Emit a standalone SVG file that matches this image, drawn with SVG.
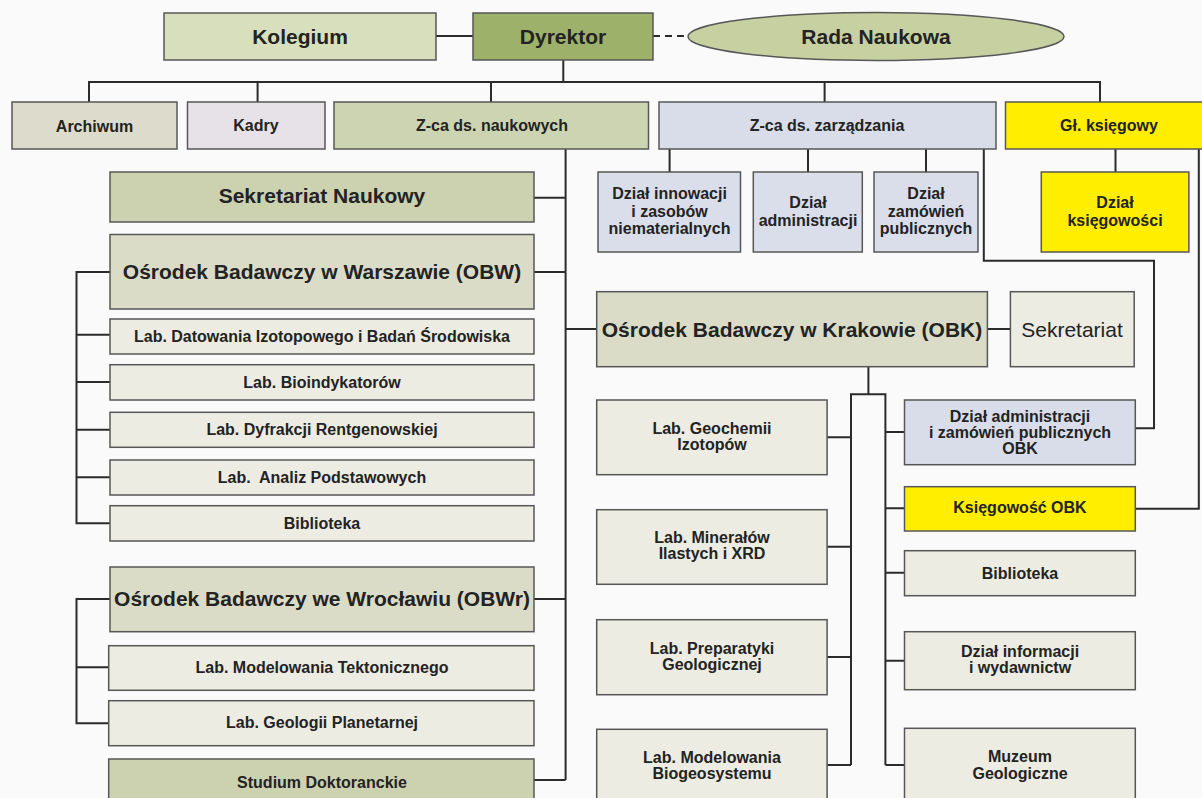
<svg xmlns="http://www.w3.org/2000/svg" width="1202" height="798" viewBox="0 0 1202 798">
<style>
.box{stroke:#575757;stroke-width:1.5}
.t16{font-family:'Liberation Sans',Arial,sans-serif;font-weight:bold;font-size:16px;fill:#232323;text-anchor:middle}
.t21{font-family:'Liberation Sans',Arial,sans-serif;font-weight:bold;font-size:21px;fill:#232323;text-anchor:middle}
.r21{font-family:'Liberation Sans',Arial,sans-serif;font-size:21px;fill:#232323;text-anchor:middle}
.c{fill:none;stroke:#2b2b2b;stroke-width:2}
.lab{fill:#ecece2}
.blue{fill:#dadeea}
.yel{fill:#ffee00}
.mid{fill:#dadcc7}
.dark{fill:#ccd1b0}
</style>
<rect width="1202" height="798" fill="#fafafa"/>
<g id="connectors">
<path class="c" d="M436 36H473"/>
<path class="c" d="M653 36H688" stroke-dasharray="7 5"/>
<path class="c" d="M563.3 60V82M89 102V82H1100V102M257.6 82V102M491 82V102M824.6 82V102"/>
<path class="c" d="M565.6 149V780M534 197.7H565.6M534 272H565.6M565.6 329H596.7M534 599H565.6M534 780H565.6"/>
<path class="c" d="M110 272H76.5V523.3H110M76.5 334.7H110M76.5 382H110M76.5 429.7H110M76.5 477.3H110"/>
<path class="c" d="M110 599H76.5V723.3H108.7M76.5 667.3H108.7"/>
<path class="c" d="M669.6 149V172M808 149V172M926 149V172M983.8 149V260.7H1154V428.3H1135.3"/>
<path class="c" d="M1115.5 149V172M1198.8 149V508.7H1135.3"/>
<path class="c" d="M987.4 329H1010.4"/>
<path class="c" d="M868.4 366.7V394.3M851 765V394.3H885.4V765"/>
<path class="c" d="M827.1 437.3H851M827.1 546.7H851M827.1 657H851M827.1 765H851"/>
<path class="c" d="M885.4 432H904.5M885.4 508.3H904.5M885.4 572.7H904.5M885.4 660.7H904.5M885.4 765H904.5"/>
</g>
<g id="kolegium"><rect class="box" x="164" y="13" width="272" height="47" fill="#d8dfbc"/><text class="t21" x="300" y="44">Kolegium</text></g>
<g id="dyrektor"><rect class="box" x="473" y="13" width="180" height="47" fill="#9db16b"/><text class="t21" x="563" y="44">Dyrektor</text></g>
<g id="rada"><ellipse class="box" cx="876" cy="36.5" rx="188" ry="24" fill="#c7d0a1"/><text class="t21" x="876" y="44">Rada Naukowa</text></g>
<g id="archiwum"><rect class="box" x="12" y="102" width="165" height="47" fill="#dddbcb"/><text class="t16" x="94.5" y="131.5">Archiwum</text></g>
<g id="kadry"><rect class="box" x="187.5" y="102" width="137.5" height="47" fill="#e7e2e7"/><text class="t16" x="256" y="131">Kadry</text></g>
<g id="zca-naukowych"><rect class="box" x="334" y="102" width="314.5" height="47" fill="#cdd4b2"/><text class="t16" x="492" y="131">Z-ca ds. naukowych</text></g>
<g id="zca-zarzadzania"><rect class="box" x="659" y="102" width="337" height="47" fill="#d9dde9"/><text class="t16" x="827" y="131">Z-ca ds. zarządzania</text></g>
<g id="gl-ksiegowy"><rect class="box yel" x="1005.5" y="102" width="207" height="47"/><text class="t16" x="1109" y="131">Gł. księgowy</text></g>
<g id="dzial-innowacji"><rect class="box blue" x="598" y="172" width="142.5" height="80"/><text class="t16" x="669.5" y="199"><tspan x="669.5">Dział innowacji</tspan><tspan x="669.5" dy="17.5">i zasobów</tspan><tspan x="669.5" dy="17.5">niematerialnych</tspan></text></g>
<g id="dzial-administracji"><rect class="box blue" x="753.3" y="172" width="109" height="80"/><text class="t16" x="808" y="208"><tspan x="808">Dział</tspan><tspan x="808" dy="17.6">administracji</tspan></text></g>
<g id="dzial-zamowien"><rect class="box blue" x="874" y="172" width="104" height="80"/><text class="t16" x="926" y="199"><tspan x="926">Dział</tspan><tspan x="926" dy="17.5">zamówień</tspan><tspan x="926" dy="17.5">publicznych</tspan></text></g>
<g id="dzial-ksiegowosci"><rect class="box yel" x="1041.3" y="172" width="147.6" height="80"/><text class="t16" x="1115" y="208"><tspan x="1115">Dział</tspan><tspan x="1115" dy="17.6">księgowości</tspan></text></g>
<g id="sekretariat-naukowy"><rect class="box dark" x="110" y="172" width="424" height="50"/><text class="t21" x="322" y="203.4">Sekretariat Naukowy</text></g>
<g id="obw"><rect class="box mid" x="110" y="234.5" width="424" height="74.5"/><text class="t21" x="322" y="279">Ośrodek Badawczy w Warszawie (OBW)</text></g>
<g id="lab-datowania"><rect class="box lab" x="110" y="319" width="424" height="35"/><text class="t16" x="322" y="342">Lab. Datowania Izotopowego i Badań Środowiska</text></g>
<g id="lab-bioindykatorow"><rect class="box lab" x="110" y="364.7" width="424" height="35.3"/><text class="t16" x="322" y="388">Lab. Bioindykatorów</text></g>
<g id="lab-dyfrakcji"><rect class="box lab" x="110" y="412.3" width="424" height="35"/><text class="t16" x="322" y="435">Lab. Dyfrakcji Rentgenowskiej</text></g>
<g id="lab-analiz"><rect class="box lab" x="110" y="460" width="424" height="35"/><text class="t16" x="322" y="483" style="white-space:pre">Lab.  Analiz Podstawowych</text></g>
<g id="biblioteka-obw"><rect class="box lab" x="110" y="505.7" width="424" height="35.3"/><text class="t16" x="322" y="529">Biblioteka</text></g>
<g id="obwr"><rect class="box mid" x="110" y="567" width="424" height="64.7"/><text class="t21" x="322" y="605.7">Ośrodek Badawczy we Wrocławiu (OBWr)</text></g>
<g id="lab-tektonicznego"><rect class="box lab" x="108.7" y="645.7" width="425.3" height="44.6"/><text class="t16" x="322" y="672.5">Lab. Modelowania Tektonicznego</text></g>
<g id="lab-planetarnej"><rect class="box lab" x="108.7" y="700.7" width="425.3" height="45"/><text class="t16" x="322" y="728">Lab. Geologii Planetarnej</text></g>
<g id="studium"><rect class="box dark" x="108.7" y="759" width="425.3" height="47"/><text class="t16" x="322" y="788">Studium Doktoranckie</text></g>
<g id="obk"><rect class="box mid" x="596.7" y="291.7" width="390.7" height="75"/><text class="t21" x="792" y="337.4">Ośrodek Badawczy w Krakowie (OBK)</text></g>
<g id="sekretariat"><rect class="box lab" x="1010.4" y="291.7" width="123.8" height="75"/><text class="r21" x="1072" y="337.4">Sekretariat</text></g>
<g id="lab-geochemii"><rect class="box lab" x="596.7" y="400" width="230.4" height="74.7"/><text class="t16" x="712" y="434"><tspan x="712">Lab. Geochemii</tspan><tspan x="712" dy="16">Izotopów</tspan></text></g>
<g id="lab-mineralow"><rect class="box lab" x="596.7" y="509.7" width="230.4" height="74.6"/><text class="t16" x="712" y="543.3"><tspan x="712">Lab. Minerałów</tspan><tspan x="712" dy="16">Ilastych i XRD</tspan></text></g>
<g id="lab-preparatyki"><rect class="box lab" x="596.7" y="619.7" width="230.4" height="75"/><text class="t16" x="712" y="653.6"><tspan x="712">Lab. Preparatyki</tspan><tspan x="712" dy="16">Geologicznej</tspan></text></g>
<g id="lab-biogeosystemu"><rect class="box lab" x="596.7" y="729.3" width="230.4" height="80"/><text class="t16" x="712" y="763"><tspan x="712">Lab. Modelowania</tspan><tspan x="712" dy="16">Biogeosystemu</tspan></text></g>
<g id="dzial-adm-obk"><rect class="box" x="904.5" y="400" width="230.8" height="64.7" fill="#d9dde9"/><text class="t16" x="1020" y="422.3"><tspan x="1020">Dział administracji</tspan><tspan x="1020" dy="16">i zamówień publicznych</tspan><tspan x="1020" dy="16">OBK</tspan></text></g>
<g id="ksiegowosc-obk"><rect class="box yel" x="904.5" y="486.7" width="230.8" height="44.3"/><text class="t16" x="1020" y="513.3">Księgowość OBK</text></g>
<g id="biblioteka-obk"><rect class="box lab" x="904.5" y="550.7" width="230.8" height="45"/><text class="t16" x="1020" y="579">Biblioteka</text></g>
<g id="dzial-informacji"><rect class="box lab" x="904.5" y="631.7" width="230.8" height="58"/><text class="t16" x="1020" y="657.3"><tspan x="1020">Dział informacji</tspan><tspan x="1020" dy="16">i wydawnictw</tspan></text></g>
<g id="muzeum"><rect class="box lab" x="904.5" y="728.3" width="230.8" height="80"/><text class="t16" x="1020" y="761.6"><tspan x="1020">Muzeum</tspan><tspan x="1020" dy="17.4">Geologiczne</tspan></text></g>
</svg>
